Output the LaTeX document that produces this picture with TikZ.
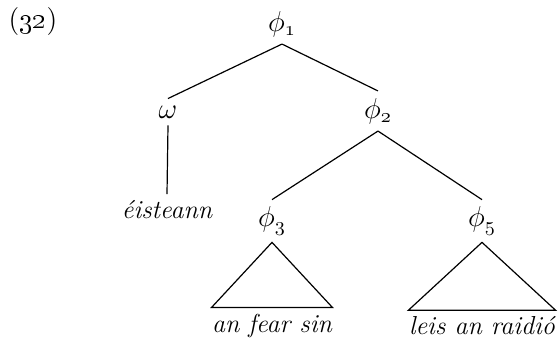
\documentclass[tikz,border=0pt]{standalone}
\usepackage{amsmath,amssymb}
\usepackage{tikz}
\usetikzlibrary{positioning,calc}

\begin{document}
\begin{tikzpicture}[x=0.5pt,y=-0.5pt, line width=0.6pt, every node/.style={font=\fontsize{14}{16}\selectfont},
    word/.style={font=\fontsize{13}{15}\selectfont\itshape, inner xsep=0pt, inner ysep=3pt}]
  \useasboundingbox (0,0) rectangle (559,343);
  \node[anchor=west, inner xsep=0pt] (num) at (8,22) {(\oldstylenums{32})};
  \node (phi1) at (282,24) {$\phi_{\mathnormal{1}}$};
  \node (omega) at (168,112) {$\omega$};
  \node (phi2) at (378,111) {$\phi_{\mathnormal{2}}$};
  \node[word] (eist) at (167,210) {éisteann};
  \node (phi3) at (272,221) {$\phi_{\mathnormal{3}}$};
  \node (phi5) at (482,221) {$\phi_{\mathnormal{5}}$};
  \node[word] (fear) at (272,326) {an fear sin};
  \node[word] (leis) at (482,326) {leis an raidió};
  \draw (phi1.south) -- (omega.north);
  \draw (phi1.south) -- (phi2.north);
  \draw (omega.south) -- (eist.north);
  \draw (phi2.south) -- (phi3.north);
  \draw (phi2.south) -- (phi5.north);
  % triangles over the phrases
  \draw (phi3.south) -- (fear.north west) -- (fear.north east) -- cycle;
  \draw (phi5.south) -- (leis.north west) -- (leis.north east) -- cycle;
\end{tikzpicture}
\end{document}
